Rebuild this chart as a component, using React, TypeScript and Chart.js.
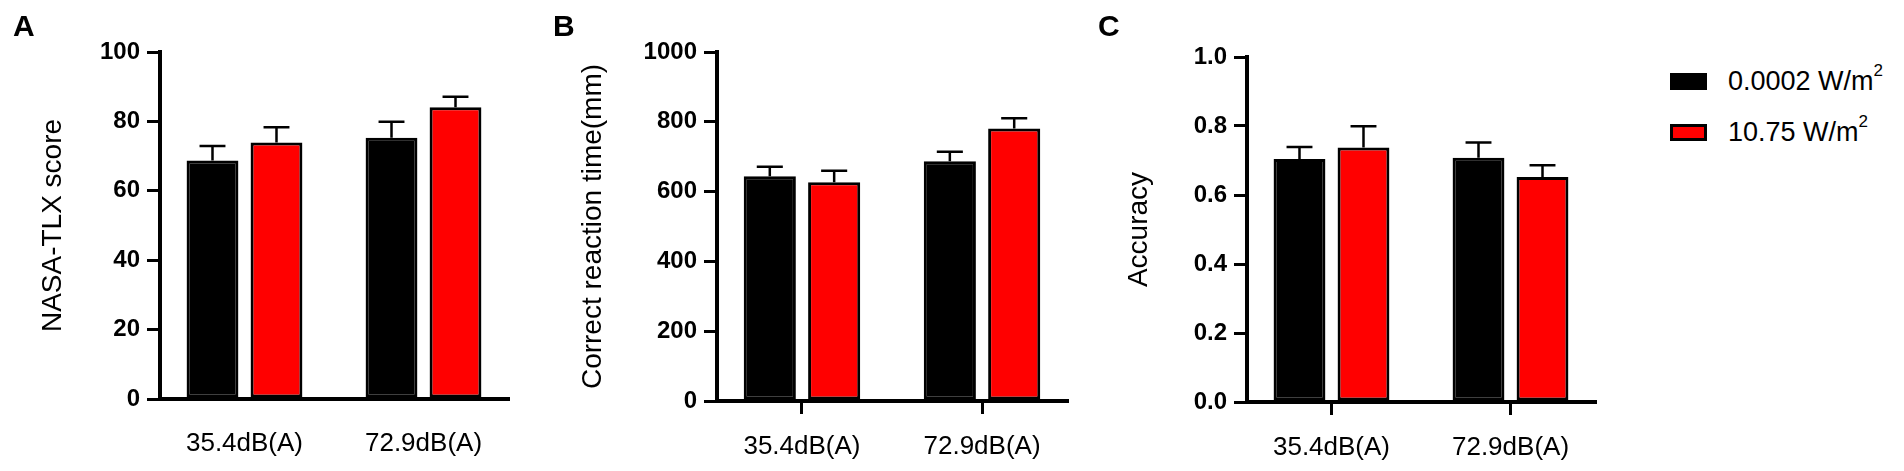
import { useEffect, useRef } from "react";
import { Chart, registerables } from "chart.js";

Chart.register(...registerables);

// groups on the x axis and the two sound-intensity series
const groups = ["35.4dB(A)", "72.9dB(A)"];
const seriesNames = ["0.0002", "10.75"];
const seriesColors = ["#000000", "#FF0000"];

// A: NASA-TLX score
const nasaBlack = [68.7, 75.3];
const nasaBlackErr = [4.2, 4.6];
const nasaRed = [73.9, 84.1];
const nasaRedErr = [4.4, 3.0];
const nasaTicks = [0, 20, 40, 60, 80, 100];

// B: correct reaction time
const rtBlack = [644, 687];
const rtBlackErr = [27, 27];
const rtRed = [627, 781];
const rtRedErr = [33, 29];
const rtTicks = [0, 200, 400, 600, 800, 1000];

// C: accuracy
const accBlack = [0.704, 0.708];
const accBlackErr = [0.035, 0.044];
const accRed = [0.738, 0.652];
const accRedErr = [0.061, 0.034];
const accTicks = [0, 0.2, 0.4, 0.6, 0.8, 1.0];

const FONT = "'Liberation Sans', Arial, sans-serif";

// upward-only error bars with a cap, drawn from the y scale
const errorBarPlugin = {
  id: "errorBars",
  afterDatasetsDraw(chart: any, _args: any, opts: any) {
    const { ctx } = chart;
    const yScale = chart.scales.y;
    const errs: number[][] = opts.errors || [];
    ctx.save();
    ctx.strokeStyle = "#000";
    chart.data.datasets.forEach((ds: any, di: number) => {
      const meta = chart.getDatasetMeta(di);
      meta.data.forEach((bar: any, i: number) => {
        const v = ds.data[i].y;
        const e = errs[di]?.[i] ?? 0;
        const base = yScale.getPixelForValue(v);
        const top = yScale.getPixelForValue(v + e);
        const half = bar.width / 4;
        ctx.lineWidth = 2.5;
        ctx.beginPath();
        ctx.moveTo(bar.x, base);
        ctx.lineTo(bar.x, top);
        ctx.moveTo(bar.x - half, top);
        ctx.lineTo(bar.x + half, top);
        ctx.stroke();
      });
    });
    ctx.restore();
  },
};

interface PanelProps {
  left: number;
  width: number;
  axisWidth: number;
  top: number;
  bottom: number;
  padRight: number;
  titlePad: number;
  yTitle: string;
  ticks: number[];
  decimals: number;
  black: number[];
  blackErr: number[];
  red: number[];
  redErr: number[];
  xTickMarks: boolean;
  labelPad: number;
}

const Panel = (p: PanelProps) => {
  const canvasRef = useRef<HTMLCanvasElement>(null);

  useEffect(() => {
    const ctx = canvasRef.current?.getContext("2d");
    if (!ctx) return;

    const chart = new Chart(ctx, {
      type: "bar",
      data: {
        datasets: [
          {
            label: seriesNames[0],
            data: p.black.map((v, i) => ({ x: i, y: v })),
            backgroundColor: seriesColors[0],
            borderColor: "#000",
            borderWidth: 3,
            borderSkipped: false,
          },
          {
            label: seriesNames[1],
            data: p.red.map((v, i) => ({ x: i, y: v })),
            backgroundColor: seriesColors[1],
            borderColor: "#000",
            borderWidth: 3,
            borderSkipped: false,
          },
        ] as any,
      },
      options: {
        animation: false,
        responsive: true,
        maintainAspectRatio: false,
        layout: { padding: { top: p.top, right: p.padRight, bottom: 0, left: 0 } },
        datasets: { bar: { categoryPercentage: 0.715, barPercentage: 0.81 } },
        plugins: {
          legend: { display: false },
          tooltip: { enabled: false },
          errorBars: { errors: [p.blackErr, p.redErr] },
        } as any,
        scales: {
          x: {
            type: "linear",
            offset: false,
            min: -0.472,
            max: 1.472,
            afterBuildTicks: (s: any) => {
              s.ticks = groups.map((_, i) => ({ value: i }));
            },
            afterFit: (s: any) => {
              s.height = 471 - p.bottom;
            },
            ticks: {
              callback: (v: any) => groups[Number(v)],
              font: { family: FONT, size: 26 },
              color: "#000",
              padding: p.labelPad,
              maxRotation: 0,
              autoSkip: false,
            },
            grid: {
              offset: false,
              drawOnChartArea: false,
              drawTicks: true,
              tickLength: 13,
              lineWidth: 3,
              color: p.xTickMarks ? "#000" : "rgba(0,0,0,0)",
            },
            border: { color: "#000", width: 4 },
          },
          y: {
            min: p.ticks[0],
            max: p.ticks[p.ticks.length - 1],
            afterBuildTicks: (s: any) => {
              s.ticks = p.ticks.map((v) => ({ value: v }));
            },
            afterFit: (s: any) => {
              s.width = p.axisWidth;
            },
            ticks: {
              callback: (v: any) => Number(v).toFixed(p.decimals),
              font: { family: FONT, size: 24, weight: "bold" },
              color: "#000",
              padding: 7,
            },
            grid: {
              drawOnChartArea: false,
              drawTicks: true,
              tickLength: 13,
              lineWidth: 3,
              color: "#000",
            },
            border: { color: "#000", width: 4 },
            title: {
              display: true,
              text: p.yTitle,
              font: { family: FONT, size: 28 },
              color: "#000",
              padding: { top: p.titlePad, bottom: 0 },
            },
          },
        },
      } as any,
      plugins: [errorBarPlugin],
    });

    return () => {
      chart.destroy();
    };
  }, []);

  return (
    <div style={{ position: "absolute", left: p.left, top: 0, width: p.width, height: 471 }}>
      <canvas ref={canvasRef}></canvas>
    </div>
  );
};

const letterStyle = (left: number): React.CSSProperties => ({
  position: "absolute",
  left,
  top: 11,
  fontFamily: FONT,
  fontWeight: "bold",
  fontSize: 30,
  lineHeight: 1,
});

const App = () => {
  return (
    <div style={{ position: "absolute", left: 0, top: 0, width: 1904, height: 471, background: "#fff" }}>
      <Panel
        left={0} width={530} axisWidth={160} top={52} bottom={399} padRight={22} titlePad={36}
        yTitle="NASA-TLX score" ticks={nasaTicks} decimals={0}
        black={nasaBlack} blackErr={nasaBlackErr} red={nasaRed} redErr={nasaRedErr}
        xTickMarks={false} labelPad={16}
      />
      <Panel
        left={540} width={540} axisWidth={177} top={52} bottom={401} padRight={13} titlePad={36}
        yTitle="Correct reaction time(mm)" ticks={rtTicks} decimals={0}
        black={rtBlack} blackErr={rtBlackErr} red={rtRed} redErr={rtRedErr}
        xTickMarks={true} labelPad={17}
      />
      <Panel
        left={1090} width={530} axisWidth={157} top={57} bottom={402} padRight={25} titlePad={32}
        yTitle="Accuracy" ticks={accTicks} decimals={1}
        black={accBlack} blackErr={accBlackErr} red={accRed} redErr={accRedErr}
        xTickMarks={true} labelPad={17}
      />
      <div style={letterStyle(13)}>A</div>
      <div style={letterStyle(553)}>B</div>
      <div style={letterStyle(1098)}>C</div>
      {seriesNames.map((name, i) => (
        <div key={name} style={{ position: "absolute", left: 1670, top: 65 + i * 51, height: 32, display: "flex", alignItems: "center" }}>
          <div
            style={{
              width: 37,
              height: 17,
              boxSizing: "border-box",
              background: seriesColors[i],
              border: "3px solid #000",
            }}
          />
          <span style={{ marginLeft: 21, fontFamily: FONT, fontSize: 27, color: "#000", whiteSpace: "nowrap" }}>
            {name} W/m<sup style={{ fontSize: 17, verticalAlign: "top", lineHeight: 1, position: "relative", top: -4 }}>2</sup>
          </span>
        </div>
      ))}
    </div>
  );
};

export default App;
